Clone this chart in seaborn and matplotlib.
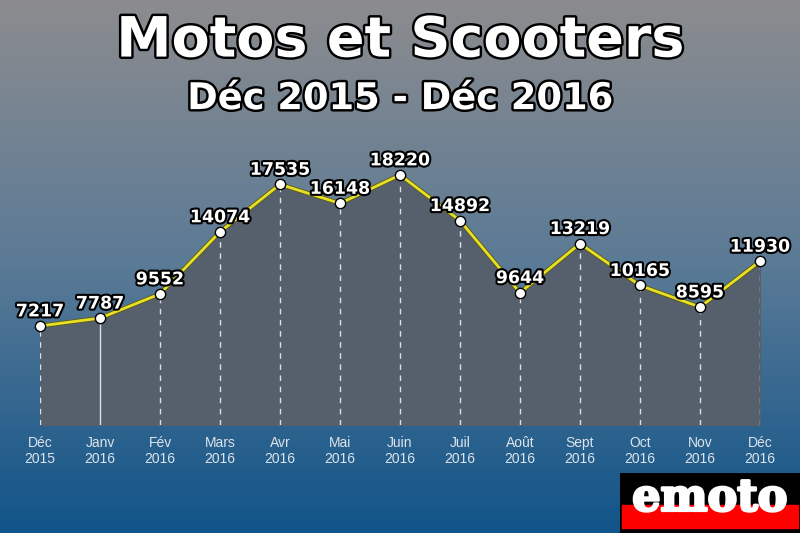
import numpy as np
import pandas as pd
import seaborn as sns
import matplotlib.pyplot as plt
import matplotlib.patheffects as pe
from matplotlib.colors import LinearSegmentedColormap

mois = ['Déc\n2015', 'Janv\n2016', 'Fév\n2016', 'Mars\n2016', 'Avr\n2016', 'Mai\n2016', 'Juin\n2016',
        'Juil\n2016', 'Août\n2016', 'Sept\n2016', 'Oct\n2016', 'Nov\n2016', 'Déc\n2016']
immat = [7217, 7787, 9552, 14074, 17535, 16148, 18220, 14892, 9644, 13219, 10165, 8595, 11930]

df = pd.DataFrame({'x': range(len(mois)), 'mois': mois, 'immat': immat})

sns.set_style('white')
fig = plt.figure(figsize=(8, 5.33), dpi=100)

# fond en degrade gris -> bleu
bg = fig.add_axes([0, 0, 1, 1], zorder=0)
cmap = LinearSegmentedColormap.from_list('fond', ['#8c8c8e', '#5a7a96', '#105489'])
bg.imshow(np.linspace(0, 1, 256).reshape(-1, 1), aspect='auto', cmap=cmap, extent=[0, 1, 0, 1])
bg.axis('off')

ax = fig.add_axes([0.05, 1 - 425 / 533, 0.9, 425 / 533], zorder=1)
ax.patch.set_alpha(0)
ax.set_xlim(0, 12)
ax.set_ylim(0, 425 / 0.013724)

ax.fill_between(df['x'], df['immat'], 0, color='#565f6c', zorder=1)
for i, v in zip(df['x'], df['immat']):
    ax.plot([i, i], [0, v], color='white', lw=1,
            ls='-' if i == 1 else (0, (4, 4)), alpha=0.8, zorder=2)

sns.lineplot(data=df, x='x', y='immat', color='#e8e028', lw=2, ax=ax, zorder=3,
             path_effects=[pe.Stroke(linewidth=3.2, foreground='#5a5a10'), pe.Normal()])
sns.scatterplot(data=df, x='x', y='immat', color='white', edgecolor='black', s=55,
                linewidth=1, ax=ax, zorder=4, clip_on=False)

contour = [pe.withStroke(linewidth=3, foreground='black')]
for i, v in zip(df['x'], df['immat']):
    ax.annotate(f'{v}', (i, v), xytext=(0, 4), textcoords='offset points', ha='center',
                va='bottom', fontsize=12.5, fontweight='bold', color='white',
                path_effects=contour, zorder=5, annotation_clip=False)

ax.set_xticks(df['x'])
ax.set_xticklabels(mois, fontsize=10, color='#dde4ec', linespacing=1.15, family='Liberation Sans')
ax.tick_params(axis='x', length=0, pad=8)
ax.set_yticks([])
ax.set_xlabel('')
ax.set_ylabel('')
sns.despine(ax=ax, left=True, bottom=True)

titre_fx = [pe.withStroke(linewidth=3.5, foreground='black')]
fig.text(0.5, 0.922, 'Motos et Scooters', ha='center', va='center', fontsize=40,
         fontweight='bold', color='white', path_effects=titre_fx)
fig.text(0.5, 0.815, 'Déc 2015 - Déc 2016', ha='center', va='center', fontsize=26.5,
         fontweight='bold', color='white', path_effects=titre_fx)

# logo
logo = fig.add_axes([620 / 800, 0, 180 / 800, 60 / 533], zorder=6)
logo.set_xlim(0, 1)
logo.set_ylim(0, 1)
logo.add_patch(plt.Rectangle((0, 0), 1, 1, color='black'))
logo.add_patch(plt.Rectangle((0.01, 0.08), 0.98, 0.38, color='#ff0000'))
logo.text(0.5, 0.58, 'emoto', ha='center', va='center', fontsize=32, fontweight='bold',
          family='DejaVu Serif', color='white', path_effects=[pe.withStroke(linewidth=2, foreground='white')])
logo.axis('off')

fig.savefig('out.png', dpi=100)
